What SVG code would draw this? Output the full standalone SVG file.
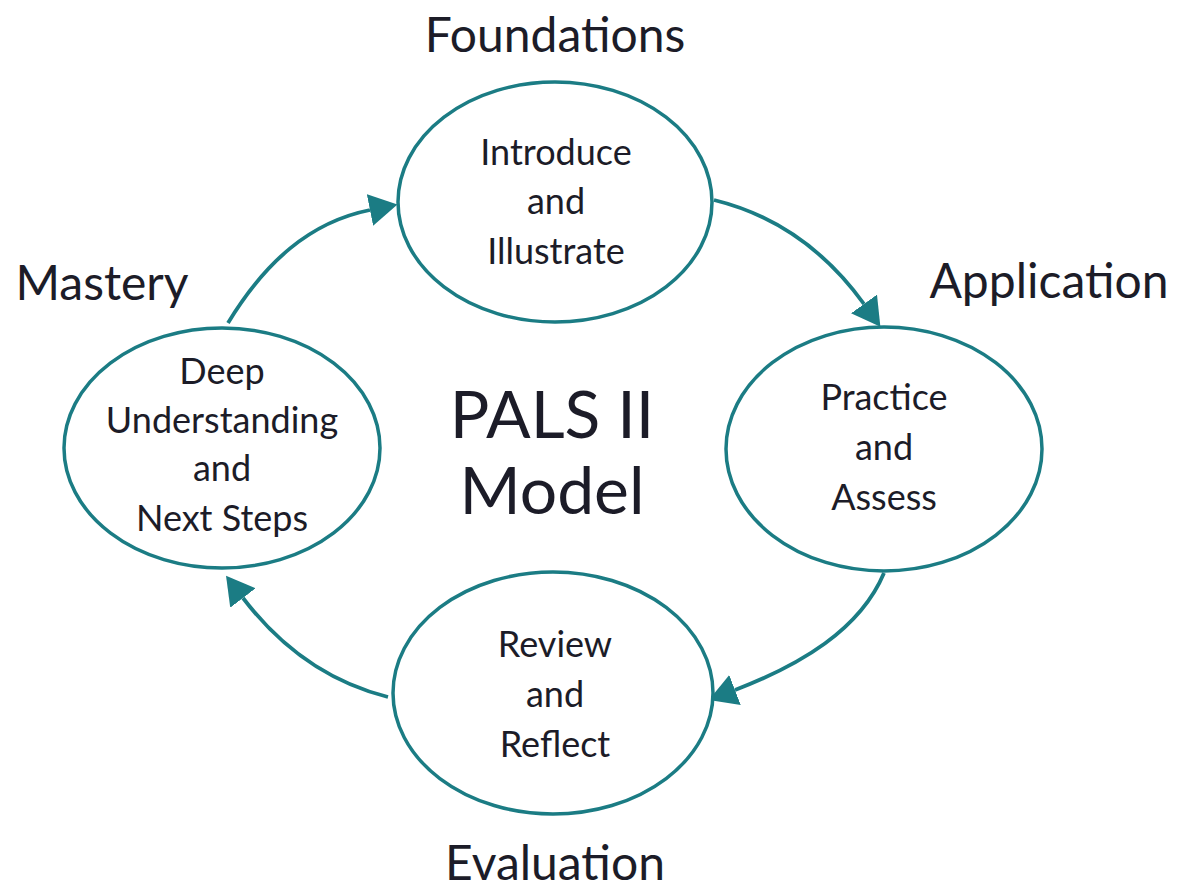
<svg xmlns="http://www.w3.org/2000/svg" width="1178" height="892" viewBox="0 0 1178 892">
<style>
.node{fill:#fff;stroke:#1b7c84;stroke-width:3.5}
.conn{fill:none;stroke:#1b7c84;stroke-width:3.8}
text{font-family:Lato,"Open Sans","Liberation Sans",sans-serif;fill:#1c1c28;text-anchor:middle}
.lab{font-size:48px}
.in{font-size:36px}
.title{font-size:66px}
</style>
<defs>
<marker id="ah" markerUnits="userSpaceOnUse" markerWidth="30" markerHeight="32" refX="0" refY="16" orient="auto" viewBox="0 0 30 32">
<path d="M0,0 L28,16 L0,32 z" fill="#1b7c84"/>
</marker>
</defs>
<rect width="1178" height="892" fill="#fff"/>
<g id="connectors">
<path class="conn" d="M228,323 C265,262 310,222 370,210" marker-end="url(#ah)"/>
<path class="conn" d="M714,200 C775,215 825,250 864,304" marker-end="url(#ah)"/>
<path class="conn" d="M884,573 C860,630 800,665 735,690" marker-end="url(#ah)"/>
<path class="conn" d="M388,697 C320,680 275,640 243,598" marker-end="url(#ah)"/>
</g>
<g id="introduce">
<ellipse class="node" cx="555" cy="202" rx="157" ry="120"/>
<text class="in" x="556" y="165">Introduce</text>
<text class="in" x="556" y="214">and</text>
<text class="in" x="556" y="264">Illustrate</text>
</g>
<g id="practice">
<ellipse class="node" cx="884" cy="449" rx="158" ry="122"/>
<text class="in" x="884" y="410">Practice</text>
<text class="in" x="884" y="460">and</text>
<text class="in" x="884" y="510">Assess</text>
</g>
<g id="review">
<ellipse class="node" cx="553" cy="693" rx="160" ry="121"/>
<text class="in" x="555" y="657">Review</text>
<text class="in" x="555" y="707">and</text>
<text class="in" x="555" y="757">Reflect</text>
</g>
<g id="deep">
<ellipse class="node" cx="222" cy="448" rx="158" ry="120"/>
<text class="in" x="222" y="384">Deep</text>
<text class="in" x="222" y="433">Understanding</text>
<text class="in" x="222" y="481">and</text>
<text class="in" x="222" y="531">Next Steps</text>
</g>
<g id="labels">
<text class="lab" x="555" y="52">Foundations</text>
<text class="lab" x="102" y="300">Mastery</text>
<text class="lab" x="1049" y="298">Application</text>
<text class="lab" x="555" y="880">Evaluation</text>
<text class="title" x="552" y="438">PALS II</text>
<text class="title" x="552" y="514">Model</text>
</g>
</svg>
